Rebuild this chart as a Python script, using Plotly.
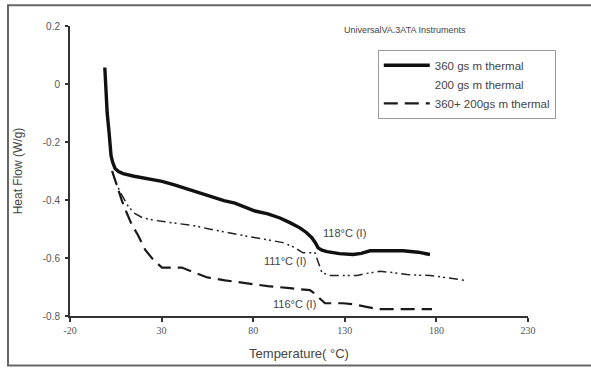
import plotly.graph_objects as go

# ---- data ----
x_360 = [-1, -0.4, 0.3, 1.3, 2.4, 3.3, 4.6, 6.5, 9, 15, 22, 30.2, 37, 44, 52, 58, 64, 70, 75, 81,
         88, 94.6, 100, 105.5, 109, 112, 114, 115.4, 117.5, 120.3, 127, 134.5, 139, 143.8, 152,
         161.8, 170, 176.5]
y_360 = [0.057, -0.05, -0.10, -0.165, -0.247, -0.27, -0.291, -0.302, -0.309, -0.318, -0.327,
         -0.336, -0.348, -0.362, -0.377, -0.392, -0.402, -0.411, -0.423, -0.438, -0.448, -0.462,
         -0.478, -0.496, -0.512, -0.530, -0.548, -0.565, -0.573, -0.578, -0.585, -0.588, -0.584,
         -0.575, -0.575, -0.575, -0.58, -0.588]

x_200 = [3, 5, 8, 11.7, 15, 19.8, 26, 32, 37.3, 43, 48, 56, 66, 72, 78.3, 86, 96.3, 102, 107.2,
         110, 113.7, 115.5, 117.5, 120, 122, 129, 136.7, 142.1, 149.2, 156, 164, 170, 176.5, 182,
         187.4, 192, 195.6]
y_200 = [-0.30, -0.34, -0.38, -0.421, -0.445, -0.462, -0.470, -0.475, -0.479, -0.484, -0.489,
         -0.500, -0.513, -0.520, -0.527, -0.535, -0.547, -0.562, -0.582, -0.582, -0.582, -0.615,
         -0.650, -0.656, -0.660, -0.660, -0.660, -0.653, -0.646, -0.650, -0.657, -0.659, -0.660,
         -0.665, -0.670, -0.673, -0.677]

x_mix = [3, 5.5, 8.4, 11, 13.8, 17, 21, 25.3, 28, 30.2, 35, 41, 48, 55, 64.6, 72, 79.3, 88, 100,
         106, 111, 113, 115.4, 117.5, 119.2, 124, 129, 134.5, 140, 147.6, 160, 170, 177.6]
y_mix = [-0.30, -0.35, -0.404, -0.445, -0.486, -0.52, -0.571, -0.605, -0.622, -0.633, -0.633,
         -0.633, -0.65, -0.667, -0.677, -0.684, -0.69, -0.697, -0.704, -0.708, -0.711, -0.72,
         -0.735, -0.748, -0.756, -0.756, -0.756, -0.759, -0.767, -0.776, -0.776, -0.776, -0.776]

series_names = ["360 gs m thermal", "200 gs m thermal", "360+ 200gs m thermal"]
x_ticks = [-20, 30, 80, 130, 180, 230]
y_ticks = [-0.8, -0.6, -0.4, -0.2, 0, 0.2]
y_tick_text = ["-0.8", "-0.6", "-0.4", "-0.2", "0", "0.2"]

peak_labels = ["118°C (I)", "111°C (I)", "116°C (I)"]
peak_x = [130.1, 97.4, 102.8]
peak_y = [-0.513, -0.612, -0.759]

fig = go.Figure()
fig.add_trace(go.Scatter(x=x_360, y=y_360, mode="lines", name=series_names[0],
                         line=dict(color="#111111", width=3.4), legendrank=1))
fig.add_trace(go.Scatter(x=x_200, y=y_200, mode="lines", name=series_names[1], showlegend=False,
                         line=dict(color="#222222", width=1.5, dash="9px,4px,2px,3px,2px,4px")))
# legend entry for the 200 series shows no sample line, as in the reference
fig.add_trace(go.Scatter(x=[None], y=[None], mode="lines", name=series_names[1],
                         line=dict(color="rgba(0,0,0,0)", width=1), legendrank=2))
fig.add_trace(go.Scatter(x=x_mix, y=y_mix, mode="lines", name=series_names[2],
                         line=dict(color="#1a1a1a", width=2.2, dash="14px,7px"), legendrank=3))

for t, xx, yy in zip(peak_labels, peak_x, peak_y):
    fig.add_annotation(x=xx, y=yy, xref="x", yref="y", text=t, showarrow=False,
                       font=dict(family="Liberation Sans, Arial", size=11, color="#444444"))

fig.add_annotation(x=0.869, y=1.01, xref="paper", yref="paper", text="UniversalVA.3ATA Instruments",
                   showarrow=False, font=dict(family="Liberation Sans, Arial", size=9, color="#444444"))

# outer frame of the figure
fig.add_shape(type="rect", xref="paper", yref="paper", x0=-0.1354, x1=1.3, y0=-0.1706, y1=1.0717,
              line=dict(color="#666666", width=2))

fig.update_layout(
    width=591, height=371,
    margin=dict(l=70, r=63, t=26, b=52),
    paper_bgcolor="white", plot_bgcolor="white",
    showlegend=True,
    legend=dict(x=0.672, y=0.918, xanchor="left", yanchor="top",
                bordercolor="#9a9a9a", borderwidth=1, bgcolor="white", itemwidth=46,
                font=dict(family="Liberation Sans, Arial", size=11.5, color="#444444"),
                traceorder="normal"),
    xaxis=dict(range=[-20, 230], tickvals=x_ticks, ticktext=[str(v) for v in x_ticks],
               showgrid=False, zeroline=False, showline=True, linecolor="#333333", linewidth=2,
               ticks="outside", ticklen=4, tickwidth=2, tickcolor="#333333",
               tickfont=dict(family="Liberation Serif, Times New Roman", size=10, color="#555555"),
               title=dict(text="Temperature( °C)", standoff=14,
                          font=dict(family="Liberation Sans, Arial", size=13, color="#444444"))),
    yaxis=dict(range=[-0.8, 0.2], tickvals=y_ticks, ticktext=y_tick_text,
               showgrid=False, zeroline=False, showline=True, linecolor="#333333", linewidth=2,
               ticks="outside", ticklen=3, tickwidth=1.5, tickcolor="#333333",
               ticklabelstandoff=3,
               tickfont=dict(family="Liberation Sans, Arial", size=10, color="#555555"),
               title=dict(text="Heat Flow (W/g)", standoff=18,
                          font=dict(family="Liberation Sans, Arial", size=12, color="#444444"))),
)

fig.write_html("out.html", config={"displayModeBar": False},
               post_script="document.body.style.margin='0';")
